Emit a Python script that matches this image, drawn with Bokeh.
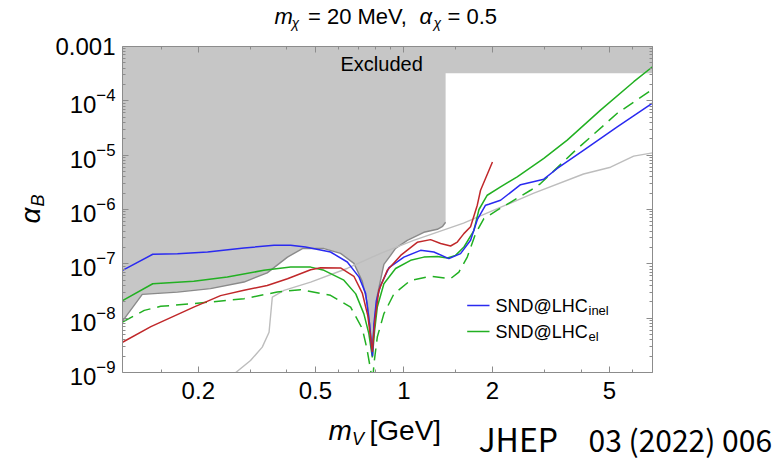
from math import pi
from bokeh.plotting import figure
from bokeh.layouts import column
from bokeh.models import (Range1d, FixedTicker, LogAxis, Label, BoxAnnotation,
                          CustomJSTickFormatter, LogTickFormatter)
from bokeh.embed import file_html
from bokeh.resources import INLINE

# ---------------- data ----------------
# SND@LHC inelastic (blue)
blue_x = [0.1105, 0.14, 0.17, 0.215, 0.286, 0.362, 0.412, 0.463, 0.563, 0.642,
          0.704, 0.741, 0.765, 0.776, 0.782, 0.791, 0.806, 0.833, 0.89, 1.0,
          1.139, 1.264, 1.422, 1.558, 1.685, 1.776, 1.895, 1.944, 2.131, 2.492,
          2.731, 2.99, 3.321, 4.089, 5.312, 7.0]
blue_y = [7.6e-8, 1.50e-7, 1.54e-7, 1.65e-7, 1.96e-7, 2.19e-7, 2.19e-7, 2.04e-7, 1.65e-7, 1.08e-7,
          5.7e-8, 2.86e-8, 7.5e-9, 2.9e-9, 2.0e-9, 7.9e-9, 2.1e-8, 4.0e-8, 8.5e-8, 1.33e-7,
          1.77e-7, 1.65e-7, 1.25e-7, 1.54e-7, 2.71e-7, 6.5e-7, 1.20e-6, 1.25e-6, 1.48e-6, 2.86e-6,
          3.22e-6, 3.61e-6, 5.69e-6, 1.24e-5, 3.32e-5, 9.1e-5]

# SND@LHC elastic (green, solid)
green_x = [0.1105, 0.14, 0.193, 0.251, 0.334, 0.412, 0.482, 0.535, 0.625, 0.686,
           0.731, 0.760, 0.781, 0.795, 0.812, 0.855, 0.937, 1.054, 1.169, 1.299,
           1.405, 1.498, 1.60, 1.729, 1.80, 1.92, 2.131, 2.428, 2.99, 3.591,
           4.66, 6.046, 7.0]
green_y = [2.1e-8, 4.3e-8, 4.8e-8, 5.7e-8, 7.6e-8, 8.7e-8, 8.7e-8, 7.6e-8, 5.0e-8, 2.8e-8,
           1.2e-8, 5.2e-9, 1.9e-9, 5.9e-9, 1.6e-8, 4.3e-8, 8.2e-8, 1.16e-7, 1.33e-7, 1.37e-7,
           1.28e-7, 1.43e-7, 2.04e-7, 4.1e-7, 1.0e-6, 1.83e-6, 2.6e-6, 4.0e-6, 8.7e-6, 1.89e-5,
           6.75e-5, 2.25e-4, 4.24e-4]

# green dashed
dash_x = [0.1105, 0.131, 0.149, 0.193, 0.286, 0.371, 0.446, 0.563, 0.659, 0.722,
          0.747, 0.766, 0.776, 0.782, 0.791, 0.812, 0.855, 0.925, 1.054, 1.232,
          1.441, 1.538, 1.642, 1.752, 1.870, 2.077, 2.695, 2.914, 3.782, 5.312,
          7.0]
dash_y = [8.5e-9, 1.39e-8, 1.65e-8, 1.85e-8, 2.28e-8, 3.02e-8, 3.35e-8, 2.63e-8, 1.6e-8, 6.4e-9,
          2.9e-9, 1.35e-9, 8.8e-10, 6e-10, 1.45e-9, 4.5e-9, 1.21e-8, 2.8e-8, 4.97e-8, 5.88e-8,
          5.34e-8, 7.06e-8, 1.33e-7, 3.6e-7, 6.8e-7, 9.7e-7, 2.26e-6, 3.0e-6, 1.15e-5, 5.9e-5,
          1.63e-4]

# red
red_x = [0.1105, 0.138, 0.193, 0.238, 0.286, 0.343, 0.402, 0.482, 0.521, 0.609,
         0.676, 0.722, 0.754, 0.771, 0.781, 0.797, 0.822, 0.878, 0.975, 1.11,
         1.232, 1.333, 1.441, 1.519, 1.599, 1.685, 1.776, 1.822, 2.0]
red_y = [3.6e-9, 7.0e-9, 1.6e-8, 2.6e-8, 3.25e-8, 4.0e-8, 5.3e-8, 7.8e-8, 8.5e-8, 8.4e-8,
         5.9e-8, 2.9e-8, 1.1e-8, 4.2e-9, 2.4e-9, 9.1e-9, 3.25e-8, 7.6e-8, 1.43e-7, 2.49e-7,
         2.79e-7, 2.36e-7, 2.13e-7, 2.52e-7, 3.6e-7, 4.8e-7, 1.2e-6, 2.26e-6, 7.5e-6]

# light gray line
gray_x = [0.255, 0.301, 0.330, 0.348, 0.357, 0.391, 0.482, 0.644, 0.833, 1.079,
          1.595, 2.022, 2.765, 4.08, 5.04, 6.04, 7.0]
gray_y = [8e-10, 1.66e-9, 2.93e-9, 5.5e-9, 2.44e-8, 3.25e-8, 4.6e-8, 8.3e-8, 1.56e-7, 2.71e-7,
          5.6e-7, 9.7e-7, 2.0e-6, 4.5e-6, 6.0e-6, 9.6e-6, 1.1e-5]

# excluded region (lower boundary)
excl_x = [0.1105, 0.129, 0.170, 0.220, 0.286, 0.343, 0.402, 0.452, 0.535, 0.609,
          0.676, 0.722, 0.751, 0.771, 0.781, 0.796, 0.812, 0.855, 0.901, 0.937,
          1.027, 1.169, 1.299, 1.354, 1.386, 1.386, 7.0]
excl_y = [8.8e-9, 2.74e-8, 3.02e-8, 3.49e-8, 4.62e-8, 6.83e-8, 1.33e-7, 1.91e-7, 1.91e-7, 1.56e-7,
          1.02e-7, 4.76e-8, 1.87e-8, 5.17e-9, 3.15e-9, 9.5e-9, 2.63e-8, 9.79e-8, 1.43e-7, 1.93e-7,
          2.71e-7, 3.81e-7, 4.32e-7, 4.91e-7, 5.82e-7, 3.21e-4, 3.21e-4]

x_major_ticks = [0.2, 0.5, 1, 2, 5]
x_tick_labels = ["0.2", "0.5", "1", "2", "5"]
x_minor_ticks = [0.15, 0.3, 0.4, 0.6, 0.7, 0.8, 0.9, 1.5, 3, 4, 6, 7]
y_major_ticks = [1e-9, 1e-8, 1e-7, 1e-6, 1e-5, 1e-4, 1e-3]
y_minor_ticks = [m * 10.0 ** k for k in range(-9, -3) for m in range(2, 10)]
y_top_label = "0.001"

X_MIN, X_MAX = 0.1105, 7.0
Y_MIN, Y_MAX = 1e-9, 1e-3

# ---------------- chart figure ----------------
W, H = 775, 463
FL, FR, FT, FB = 122, 652, 46, 372

p = figure(width=W, height=H, x_axis_type="log", y_axis_type="log",
           x_range=Range1d(X_MIN, X_MAX), y_range=Range1d(Y_MIN, Y_MAX),
           output_backend="svg", toolbar_location=None,
           min_border_left=FL, min_border_right=W - FR,
           min_border_top=FT, min_border_bottom=H - FB)
p.frame_align = False
p.background_fill_color = "white"
p.border_fill_color = "white"
p.outline_line_color = None
p.grid.visible = False

AX_COL = "#8c8c8c"
TICK_FONT = "Liberation Sans"


def style_axis(ax, labels=True):
    ax.axis_line_color = AX_COL
    ax.axis_line_width = 1
    ax.major_tick_line_color = AX_COL
    ax.minor_tick_line_color = AX_COL
    ax.major_tick_in = 6
    ax.major_tick_out = 0
    ax.minor_tick_in = 3
    ax.minor_tick_out = 0
    if labels:
        ax.major_label_text_font = TICK_FONT
        ax.major_label_text_font_size = "24px"
        ax.major_label_text_color = "black"
    else:
        ax.major_label_text_font_size = "1px"
        ax.major_label_standoff = 0


p.xaxis.ticker = FixedTicker(ticks=x_major_ticks, minor_ticks=x_minor_ticks)
p.xaxis.major_label_overrides = dict(zip(x_major_ticks, x_tick_labels))
style_axis(p.xaxis[0])
p.xaxis.major_label_standoff = 9

p.yaxis.ticker = FixedTicker(ticks=y_major_ticks, minor_ticks=y_minor_ticks)
p.yaxis.formatter = LogTickFormatter()
p.yaxis.major_label_overrides = {y_major_ticks[-1]: y_top_label}
style_axis(p.yaxis[0])
p.yaxis.major_label_standoff = 7

blank = CustomJSTickFormatter(code="return ''")
top_ax = LogAxis(ticker=FixedTicker(ticks=x_major_ticks, minor_ticks=x_minor_ticks), formatter=blank)
right_ax = LogAxis(ticker=FixedTicker(ticks=y_major_ticks, minor_ticks=y_minor_ticks), formatter=blank)
style_axis(top_ax, labels=False)
style_axis(right_ax, labels=False)
p.add_layout(top_ax, "above")
p.add_layout(right_ax, "right")

# excluded region
p.varea(x=excl_x, y1=excl_y, y2=[Y_MAX] * len(excl_x), fill_color="#c6c6c6", fill_alpha=1)
p.line(excl_x[:-2], excl_y[:-2], line_color="#8a8a8a", line_width=1.4)

# curves
p.line(gray_x, gray_y, line_color="#bdbdbd", line_width=1.4)
p.line(dash_x, dash_y, line_color="#22b022", line_width=1.5, line_dash="12 7")
p.line(green_x, green_y, line_color="#22b022", line_width=1.5)
p.line(blue_x, blue_y, line_color="#2a2af0", line_width=1.5)
p.line(red_x, red_y, line_color="#c0282a", line_width=1.5)

# Bokeh draws "alphabetic" labels a little below the anchor; compensate
BASE_K = {"Liberation Sans": 0.35, "Noto Sans CJK KR": 0.4}


def frame_text(txt, X, Y, size, italic=False, font="Liberation Sans"):
    Yc = Y - BASE_K[font] * size
    p.add_layout(Label(x=X - FL, y=FB - Yc, x_units="screen", y_units="screen", text=txt,
                       text_font=font, text_font_size=f"{size}px",
                       text_font_style="italic" if italic else "normal",
                       text_color="black", text_align="left", text_baseline="alphabetic"))


def add_sample(X0, X1, Y, color):
    p.add_layout(BoxAnnotation(left=X0 - FL, right=X1 - FL, bottom=FB - Y - 0.7, top=FB - Y + 0.7,
                               left_units="screen", right_units="screen",
                               bottom_units="screen", top_units="screen",
                               fill_color=color, fill_alpha=1, line_alpha=0))


frame_text("Excluded", 340, 70.7, 20)

add_sample(466.7, 489, 305, "#2a2af0")
frame_text("SND@LHC", 495, 311.5, 18)
frame_text("inel", 588, 314.5, 13)
add_sample(466.7, 489, 331, "#22b022")
frame_text("SND@LHC", 495, 337.3, 18)
frame_text("el", 588, 340.5, 13)

# ---------------- transparent text layer over the whole canvas ----------------
t = figure(width=W, height=H, x_range=Range1d(0, W), y_range=Range1d(H, 0),
           output_backend="svg", toolbar_location=None,
           x_axis_location=None, y_axis_location=None,
           min_border=0, margin=(-H, 0, 0, 0))
t.frame_align = False
t.min_border_left = 0
t.min_border_right = 0
t.min_border_top = 0
t.min_border_bottom = 0
t.title.visible = False
t.grid.visible = False
t.outline_line_color = None
t.background_fill_alpha = 0
t.border_fill_alpha = 0


def page_text(txt, X, Y, size, italic=False, font="Liberation Sans", angle=0.0):
    k = BASE_K[font] * size
    if angle:
        X = X - k
    else:
        Y = Y - k
    t.add_layout(Label(x=X, y=Y, text=txt, text_font=font, text_font_size=f"{size}px",
                       text_font_style="italic" if italic else "normal",
                       text_color="black", text_align="left", text_baseline="alphabetic",
                       angle=angle))


# title
page_text("m", 274, 23.5, 22, italic=True)
page_text("χ", 291, 27.5, 14, italic=True)
page_text("= 20 MeV,", 307.5, 23.5, 22)
page_text("α", 419, 23.5, 22, italic=True)
page_text("χ", 433, 27.5, 14, italic=True)
page_text("= 0.5", 447, 23.5, 22)

# axis labels
page_text("m", 328, 440, 28, italic=True)
page_text("V", 351.5, 445, 18, italic=True)
page_text("[GeV]", 369, 440, 28)
page_text("α", 40, 223, 28, italic=True, angle=pi / 2)
page_text("B", 44, 206, 18, italic=True, angle=pi / 2)

# source note
page_text("JHEP", 478, 450, 32, font="Noto Sans CJK KR")
page_text("03 (2022) 006", 588, 450, 30, font="Noto Sans CJK KR")

layout = column(p, t, spacing=0)
open("out.html", "w").write(file_html(layout, INLINE))
